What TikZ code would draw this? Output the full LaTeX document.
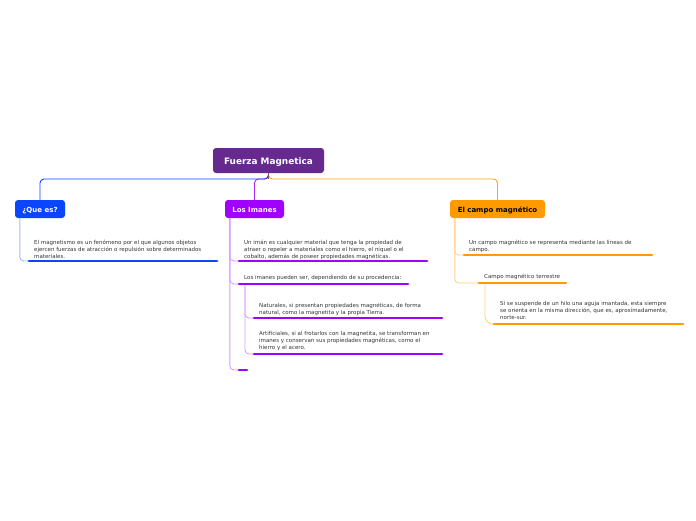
\documentclass[tikz,border=0pt]{standalone}
\usepackage{fontspec}
\setmainfont{DejaVu Sans}
\definecolor{rootc}{HTML}{66298E}
\definecolor{bluec}{HTML}{0A46FF}
\definecolor{purplec}{HTML}{A000FF}
\definecolor{orangec}{HTML}{FF9A00}
\definecolor{bluel}{HTML}{A6B9FF}
\definecolor{purplel}{HTML}{D89CFF}
\definecolor{orangel}{HTML}{FFD08A}
\definecolor{txt}{HTML}{333333}
\tikzset{
  rootbox/.style={fill=rootc, rounded corners=3pt, text=white, font=\fontsize{8.9}{10}\selectfont\bfseries, minimum width=111pt, minimum height=25pt, inner sep=0pt, text height=0.72em, text depth=0pt},
  mainbox/.style={fill=#1, rounded corners=3pt, font=\fontsize{7}{8}\selectfont\bfseries, minimum height=18pt, inner sep=0pt, text height=0.72em, text depth=0pt},
  leaf/.style={anchor=north west, inner sep=0pt, align=left, text=txt, font=\fontsize{5.5}{7}\selectfont},
  uline/.style={line width=2.6pt, line cap=round, draw=#1},
  conn/.style={line width=0.9pt, rounded corners=4pt, draw=#1},
}
\begin{document}
\begin{tikzpicture}[x=1pt,y=-1pt]
\useasboundingbox (0,0) rectangle (696,520);
\coordinate (bus) at (0,179);
% root and main boxes
\node[rootbox] (root) at (268.5,160.5) {Fuerza Magnetica};
\node[mainbox=bluec, text=white, minimum width=50pt] (qe) at (40,209) {¿Que es?};
\node[mainbox=purplec, text=white, minimum width=59pt] (li) at (254.5,209) {Los Imanes};
\node[mainbox=orangec, text=black, minimum width=95pt] (cm) at (497.5,209) {El campo magnético};
% top connectors
\draw[conn=orangec!90] (root.south) |- (cm.north |- bus) -- (cm.north);
\draw[conn=purplec!85] (root.south) |- (li.north |- bus) -- (li.north);
\draw[conn=bluec] (root.south) |- (qe.north |- bus) -- (qe.north);
\draw[line width=0.9pt, draw=rootc!70!orangec] (root.south) -- (root.south |- bus);
% --- Que es
\coordinate (u1s) at (29,261); \coordinate (u1e) at (217,261);
\node[leaf] (t1) at (34,239.5) {El magnetismo es un fenómeno por el que algunos objetos\\ejercen fuerzas de atracción o repulsión sobre determinados\\materiales.};
\draw[conn=bluel] (qe.south west) ++(5,0) |- (u1s);
\draw[uline=bluec] (u1s) -- (u1e);
% --- Los Imanes
\coordinate (u2s) at (239,261); \coordinate (u2e) at (427,261);
\coordinate (u3s) at (239,284); \coordinate (u3e) at (408,284);
\coordinate (u4s) at (254,318); \coordinate (u4e) at (442,318);
\coordinate (u5s) at (254,354); \coordinate (u5e) at (442,354);
\coordinate (u6s) at (239,370); \coordinate (u6e) at (247,370);
\node[leaf] (t2) at (244,239.5) {Un imán es cualquier material que tenga la propiedad de\\atraer o repeler a materiales como el hierro, el níquel o el\\cobalto, además de poseer propiedades magnéticas.};
\node[leaf] (t3) at (244,275) {Los imanes pueden ser, dependiendo de su procedencia:};
\node[leaf] (t4) at (259,302.5) {Naturales, si presentan propiedades magnéticas, de forma\\natural, como la magnetita y la propia Tierra.};
\node[leaf] (t5) at (259,331) {Artificiales, si al frotarlos con la magnetita, se transforman en\\imanes y conservan sus propiedades magnéticas, como el\\hierro y el acero.};
\draw[conn=purplel] (li.south west) ++(5,0) |- (u6s);
\draw[conn=purplel] (li.south west) ++(5,0) |- (u2s);
\draw[conn=purplel] (li.south west) ++(5,0) |- (u3s);
\draw[conn=purplel] (245,285.5) |- (u5s);
\draw[conn=purplel] (245,285.5) |- (u4s);
\draw[uline=purplec] (u2s) -- (u2e);
\draw[uline=purplec] (u3s) -- (u3e);
\draw[uline=purplec] (u4s) -- (u4e);
\draw[uline=purplec] (u5s) -- (u5e);
\draw[uline=purplec] (u6s) -- (u6e);
% --- Campo magnetico
\coordinate (u7s) at (464,255); \coordinate (u7e) at (652,255);
\coordinate (u8s) at (479,283); \coordinate (u8e) at (566,283);
\coordinate (u9s) at (494,324); \coordinate (u9e) at (683,324);
\node[leaf] (t7) at (469,239.5) {Un campo magnético se representa mediante las líneas de\\campo.};
\node[leaf] (t8) at (484,273.5) {Campo magnético terrestre};
\node[leaf] (t9) at (500,301.5) {Si se suspende de un hilo una aguja imantada, esta siempre\\se orienta en la misma dirección, que es, aproximadamente,\\norte-sur.};
\draw[conn=orangel] (cm.south west) ++(5,0) |- (u8s);
\draw[conn=orangel] (cm.south west) ++(5,0) |- (u7s);
\draw[conn=orangel, rounded corners=8pt] (485,284.5) |- (u9s);
\draw[uline=orangec] (u7s) -- (u7e);
\draw[uline=orangec] (u8s) -- (u8e);
\draw[uline=orangec] (u9s) -- (u9e);
\end{tikzpicture}
\end{document}
